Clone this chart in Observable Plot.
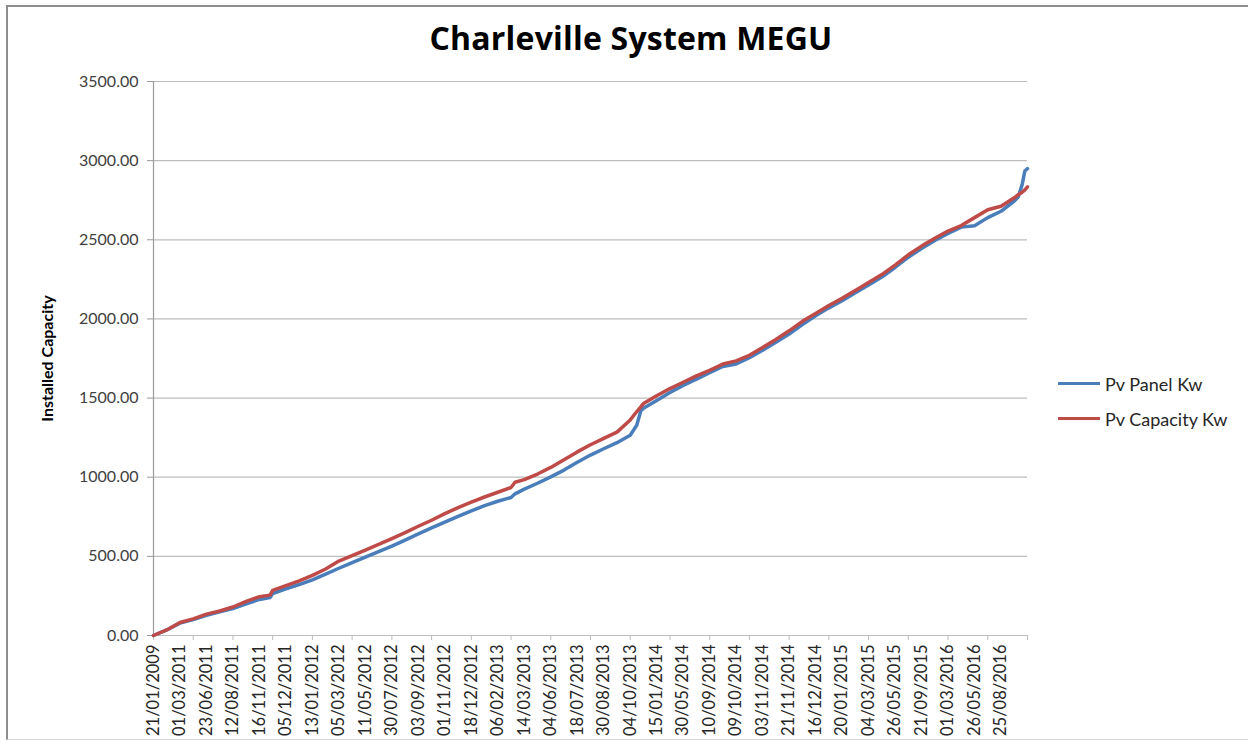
<!DOCTYPE html>
<html>
<head>
<meta charset="utf-8">
<script src="https://cdn.jsdelivr.net/npm/d3@7"></script>
<script src="https://cdn.jsdelivr.net/npm/@observablehq/plot@0.6"></script>
<style>
  html, body { margin: 0; padding: 0; background: #fff; }
  #wrap { position: relative; width: 1248px; height: 744px; overflow: hidden; font-family: Lato, "Open Sans", sans-serif; }
  #frame { position: absolute; left: 6px; top: 5px; width: 1300px; height: 735px; border-left: 2px solid #8e8e8e; border-top: 2px solid #8e8e8e; border-bottom: 1px solid #d8d8d8; box-sizing: border-box; }
  #title { position: absolute; left: 0; top: 16px; width: 1262px; text-align: center; font-family: "Open Sans", sans-serif; font-size: 32px; font-weight: 700; color: #000; letter-spacing: 0.2px; }
  #chart { position: absolute; left: 0; top: 60px; }
  #legend { position: absolute; left: 1058px; top: 366px; font-size: 18px; color: #262626; }
  .item { display: flex; align-items: center; height: 35px; }
  .sw { width: 42px; height: 3px; margin-right: 5px; }
  svg [aria-label="y-axis label"] text, svg [aria-label="y-axis label"] { font-weight: 700; font-size: 16px; fill: #000; }
</style>
</head>
<body>
<div id="wrap">
  <div id="frame"></div>
  <div id="title">Charleville System MEGU</div>
  <div id="chart"></div>
  <div id="legend">
    <div class="item"><div class="sw" style="background:#4a7ebb"></div>Pv Panel Kw</div>
    <div class="item"><div class="sw" style="background:#be4b48"></div>Pv Capacity Kw</div>
  </div>
</div>
<script>
const dateLabels = ["21/01/2009","01/03/2011","23/06/2011","12/08/2011","16/11/2011","05/12/2011","13/01/2012","05/03/2012","11/05/2012","30/07/2012","03/09/2012","01/11/2012","18/12/2012","06/02/2013","14/03/2013","04/06/2013","18/07/2013","30/08/2013","04/10/2013","15/01/2014","30/05/2014","10/09/2014","09/10/2014","03/11/2014","21/11/2014","16/12/2014","20/01/2015","04/03/2015","26/05/2015","21/09/2015","01/03/2016","26/05/2016","25/08/2016"];

// category position (one label every 2 positions, one tick every 3)
const xPos = [0,1,2,3,4,5,6,7,8,8.8,9,10,11,12,13,14,15,16,17,18,19,20,21,22,23,24,25,26,27,27.3,28,29,30,31,32,33,34,35,36,36.5,36.8,37,38,39,40,41,42,43,44,45,46,47,48,49,50,51,52,53,54,55,56,57,58,59,60,61,62,63,64,65,65.3,65.6,65.8,66];
const capacityKw = [0,35,82,105,135,155,180,215,245,255,285,315,345,380,420,470,505,540,575,612,650,690,728,770,808,842,875,905,935,968,985,1020,1062,1110,1160,1205,1245,1285,1362,1415,1445,1465,1515,1560,1600,1640,1675,1715,1735,1770,1820,1870,1925,1985,2035,2085,2130,2180,2230,2280,2340,2405,2460,2510,2555,2590,2640,2690,2712,2765,2785,2800,2815,2835];
const panelKw = [0,35,78,100,128,150,170,200,228,240,265,295,322,352,388,425,460,495,530,565,603,642,680,716,752,787,820,848,872,895,925,962,1002,1045,1095,1140,1180,1218,1265,1330,1420,1435,1485,1535,1580,1620,1660,1700,1715,1755,1802,1852,1905,1965,2020,2070,2115,2165,2215,2265,2325,2390,2445,2495,2540,2580,2588,2640,2680,2745,2770,2850,2935,2950];
const yTicks = [0,500,1000,1500,2000,2500,3000,3500];

const panel = xPos.map((x, i) => ({x, v: panelKw[i]}));
const capacity = xPos.map((x, i) => ({x, v: capacityKw[i]}));
const labelPos = dateLabels.map((d, i) => i * 2);
const tickPos = d3.range(0, 67, 3);

const chart = Plot.plot({
  width: 1248,
  height: 684,
  marginTop: 21,
  marginBottom: 109,
  marginLeft: 153,
  marginRight: 221,
  style: {fontFamily: "Lato, 'Open Sans', sans-serif", background: "transparent"},
  x: {type: "linear", domain: [0, 66]},
  y: {domain: [0, 3500]},
  marks: [
    Plot.gridY(yTicks, {stroke: "#bdbdbd", strokeOpacity: 1, strokeWidth: 1.2}),
    Plot.ruleY([0], {stroke: "#bdbdbd", strokeWidth: 1.2}),
    Plot.ruleX([0], {stroke: "#9a9a9a", strokeWidth: 1.2}),
    Plot.axisY({ticks: yTicks, tickFormat: d => d.toFixed(2), tickSize: 6, tickPadding: 9, stroke: "#9a9a9a", fontSize: 16, color: "#404040",
      label: "Installed Capacity", labelAnchor: "center", labelArrow: "none", labelOffset: 112}),
    Plot.axisX({ticks: tickPos, tickFormat: () => "", tickSize: 5, stroke: "#bdbdbd", label: null}),
    Plot.axisX({ticks: labelPos, tickFormat: d => dateLabels[d / 2], tickSize: 0, tickPadding: 9, tickRotate: -90, fontSize: 16.5, color: "#262626", label: null}),
    Plot.line(panel, {x: "x", y: "v", stroke: "#4a7ebb", strokeWidth: 3.5, curve: "linear"}),
    Plot.line(capacity, {x: "x", y: "v", stroke: "#be4b48", strokeWidth: 3.5, curve: "linear"})
  ]
});
document.getElementById("chart").appendChild(chart);
</script>
</body>
</html>
